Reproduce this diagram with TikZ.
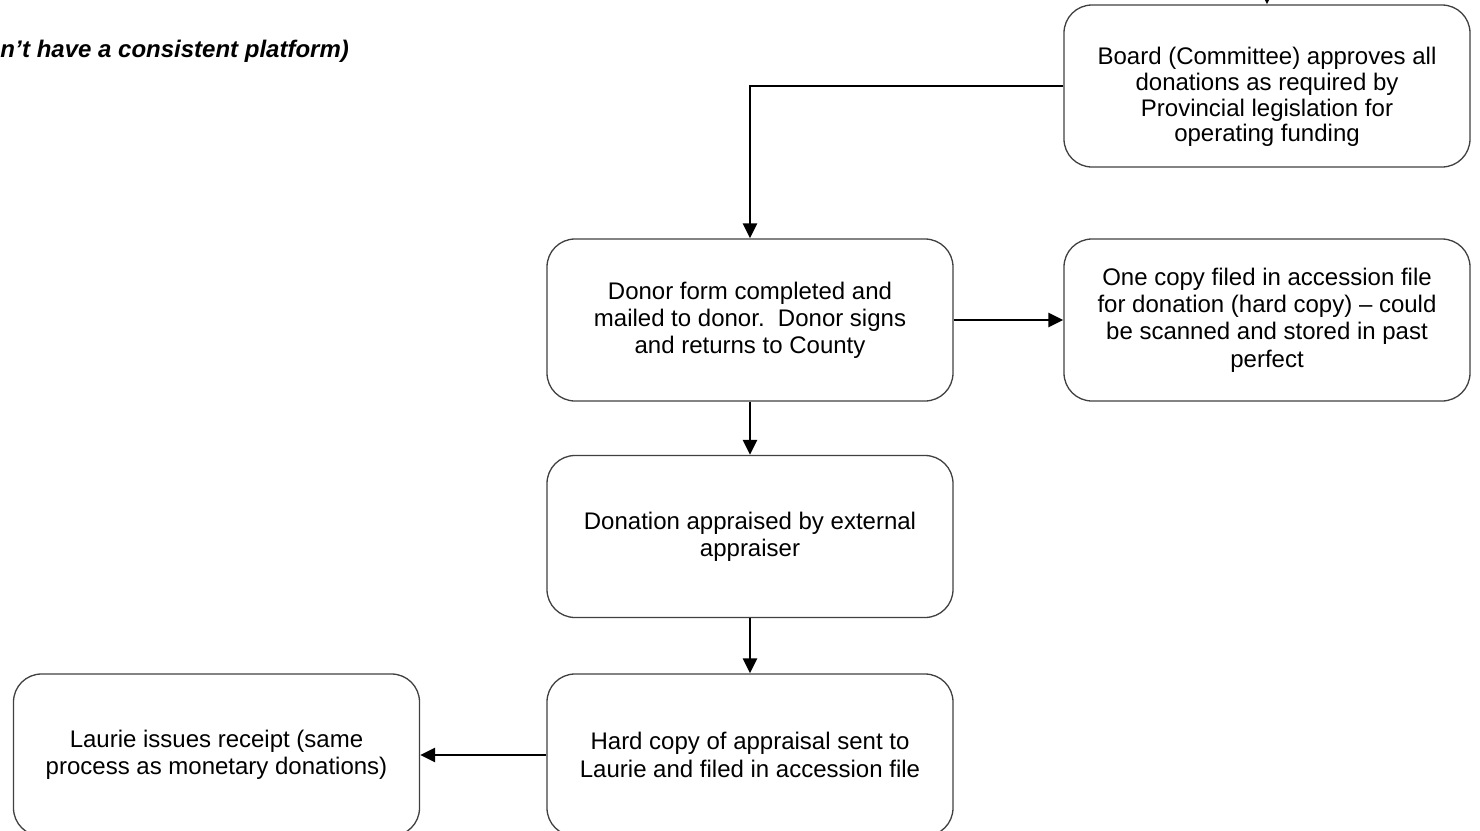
\documentclass[tikz,border=0pt]{standalone}
\usepackage{fontspec}
\setmainfont{Liberation Sans}
\usetikzlibrary{arrows.meta}
\begin{document}
\begin{tikzpicture}[x=0.5pt,y=-0.5pt,
  stepbox/.style={draw=black!75, line width=0.65pt, rounded corners=14pt,
    minimum width=203pt, minimum height=81pt, align=center, inner sep=0pt,
    font=\fontsize{12}{13.6}\selectfont},
  boxtext/.style={align=center, inner sep=0pt, font=\fontsize{12}{12.8}\selectfont},
  flow/.style={line width=1.4pt, -{Triangle[length=7.5pt,width=7pt]}}]
\useasboundingbox (0,0) rectangle (1480,831);
\clip (0,0) rectangle (1480,831);

% heading fragment
\node[anchor=base west, inner sep=0pt,
      font=\bfseries\itshape\fontsize{12}{14}\selectfont] (title) at (0,57)
  {n’t have a consistent platform)};

% process steps
\node[stepbox] (board) at (1267,86) {};
\node[boxtext] (boardtxt) at ([yshift=-5.5pt]board.center)
  {Board (Committee) approves all\\donations as required by\\Provincial legislation for\\operating funding};
\node[stepbox] (donor) at (750,320)
  {Donor form completed and\\mailed to donor.\ \ Donor signs\\and returns to County};
\node[stepbox] (copy) at (1267,320)
  {One copy filed in accession file\\for donation (hard copy) – could\\be scanned and stored in past\\perfect};
\node[stepbox] (appraise) at (750,536.5)
  {Donation appraised by external\\appraiser};
\node[stepbox] (hard) at (750,755)
  {Hard copy of appraisal sent to\\Laurie and filed in accession file};
\node[stepbox] (laurie) at (216.5,755)
  {Laurie issues receipt (same\\process as monetary donations)};

% connectors
\coordinate (feed) at (1267,-20);
\draw[flow] (feed) -- (board.north);
\draw[flow] (board.west) -| (donor.north);
\draw[flow] (donor.east) -- (copy.west);
\draw[flow] (donor.south) -- (appraise.north);
\draw[flow] (appraise.south) -- (hard.north);
\draw[flow] (hard.west) -- (laurie.east);
\end{tikzpicture}
\end{document}
